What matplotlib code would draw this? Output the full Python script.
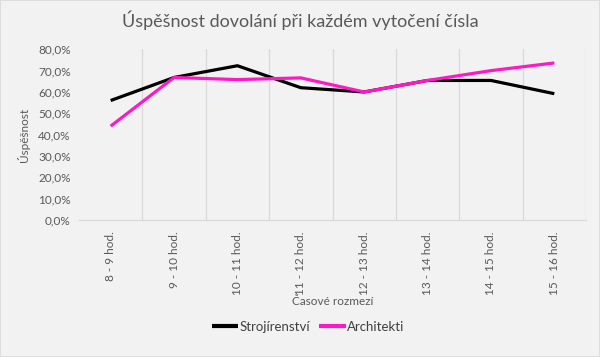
import matplotlib
matplotlib.use("Agg")
import matplotlib.pyplot as plt

categories = ["8 - 9 hod.", "9 - 10 hod.", "10 - 11 hod.", "11 - 12 hod.",
              "12 - 13 hod.", "13 - 14 hod.", "14 - 15 hod.", "15 - 16 hod."]
strojirenstvi = [56.0, 66.8, 72.3, 62.0, 60.0, 65.4, 65.4, 59.2]
architekti = [44.0, 66.8, 65.8, 66.6, 60.0, 65.4, 70.0, 73.6]
yticks = [0, 10, 20, 30, 40, 50, 60, 70, 80]

plt.rcParams['font.family'] = ['Lato', 'DejaVu Sans']
txt = '#595959'
bg = '#f2f2f2'

fig = plt.figure(figsize=(6.0, 3.57), dpi=100, facecolor=bg)
fig.patches.append(plt.Rectangle((0, 0), 1, 1, transform=fig.transFigure,
                                 fill=False, edgecolor='#d9d9d9', lw=1.2))
ax = fig.add_axes([79/600, (357-220)/357, (586-79)/600, (220-49.3)/357])
ax.set_facecolor(bg)

x = list(range(len(categories)))
ax.plot(x, strojirenstvi, color='black', lw=2.3, label='Strojírenství', solid_capstyle='butt')
ax.plot(x, architekti, color='#ff19c6', lw=2.3, label='Architekti', solid_capstyle='butt')

ax.set_xlim(-0.5, len(categories) - 0.5)
ax.set_ylim(0, 80)
for b in range(1, len(categories)):
    ax.axvline(b - 0.5, color='#d9d9d9', lw=0.9, zorder=0)
ax.axvline(len(categories) - 0.5, color='#d9d9d9', lw=0.9, zorder=0)

for s in ['top', 'right', 'left']:
    ax.spines[s].set_visible(False)
ax.spines['bottom'].set_color('#d9d9d9')
ax.spines['bottom'].set_linewidth(0.9)

ax.set_yticks(yticks)
ax.set_yticklabels([f"{v:.1f}%".replace('.', ',') for v in yticks], color=txt, fontsize=8.5)
ax.tick_params(axis='y', length=0, pad=6)
ax.set_xticks(x)
ax.set_xticklabels(categories, rotation=90, color=txt, fontsize=8.5)
ax.tick_params(axis='x', length=0, pad=8)

ax.set_ylabel('Úspěšnost', color=txt, fontsize=8.5, labelpad=6)
ax.set_xlabel('Časové rozmezí', color=txt, fontsize=8.5, labelpad=1)

fig.text(0.5, 1 - 20/357, 'Úspěšnost dovolání při každém vytočení čísla',
         ha='center', va='center', fontsize=13, color=txt)

leg = fig.legend(loc='center', bbox_to_anchor=(308/600, 1 - 327/357), ncol=2,
                 frameon=False, fontsize=9.5, handlelength=2.0, columnspacing=0.7,
                 handletextpad=0.1, labelcolor='#404040')
for h in leg.get_lines():
    h.set_linewidth(3.0)

fig.savefig('out.png', dpi=100, facecolor=bg)
